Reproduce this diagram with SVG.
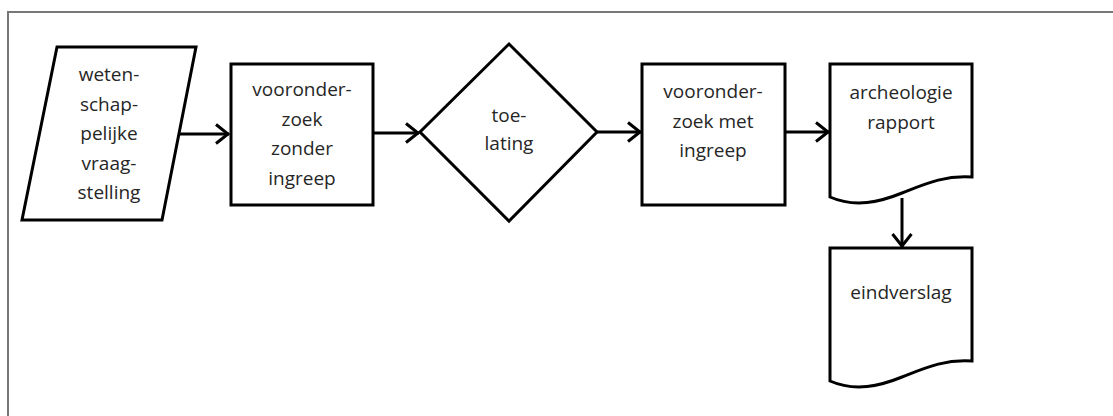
<svg xmlns="http://www.w3.org/2000/svg" width="1113" height="416" viewBox="0 0 1113 416">
<style>
.shape{fill:#fff;stroke:#000;stroke-width:3;stroke-linejoin:miter}
.conn{fill:none;stroke:#000;stroke-width:3}
text{font-family:"Open Sans","Liberation Sans",sans-serif;font-size:19px;fill:#262626;text-anchor:middle}
</style>
<defs>
<marker id="arr" markerUnits="userSpaceOnUse" markerWidth="18" markerHeight="24" refX="15" refY="12" orient="auto">
<path d="M2,2.5 L14,12 L2,21.5" fill="none" stroke="#000" stroke-width="3"/>
</marker>
</defs>
<rect width="1113" height="416" fill="#fff"/>
<path d="M8,420 V12 H1120" fill="none" stroke="#777" stroke-width="2"/>
<g id="connectors">
<line class="conn" x1="180" y1="134" x2="229" y2="134" marker-end="url(#arr)"/>
<line class="conn" x1="373" y1="133" x2="419" y2="133" marker-end="url(#arr)"/>
<line class="conn" x1="597" y1="132" x2="641" y2="132" marker-end="url(#arr)"/>
<line class="conn" x1="785" y1="132" x2="829" y2="132" marker-end="url(#arr)"/>
<line class="conn" x1="902" y1="198" x2="902" y2="247" marker-end="url(#arr)"/>
</g>
<g id="n1">
<polygon class="shape" points="57,47 196,47 162,220 22,220"/>
<text x="109" y="81">weten-</text>
<text x="109" y="110.5">schap-</text>
<text x="109" y="140">pelijke</text>
<text x="109" y="169.5">vraag-</text>
<text x="109" y="199">stelling</text>
</g>
<g id="n2">
<rect class="shape" x="231" y="64" width="142" height="141"/>
<text x="302" y="96">vooronder-</text>
<text x="302" y="125.5">zoek</text>
<text x="302" y="155">zonder</text>
<text x="302" y="184.5">ingreep</text>
</g>
<g id="n3">
<polygon class="shape" points="509,44 597,132 509,221 420,132"/>
<text x="509" y="122">toe-</text>
<text x="509" y="150">lating</text>
</g>
<g id="n4">
<rect class="shape" x="642" y="64" width="143" height="141"/>
<text x="713" y="98">vooronder-</text>
<text x="713" y="128">zoek met</text>
<text x="713" y="157">ingreep</text>
</g>
<g id="n5">
<path class="shape" d="M830,64 H972 V177 C945,175 925,184 902,193 C880,202 855,208 830,197 Z"/>
<text x="901" y="99">archeologie</text>
<text x="901" y="129">rapport</text>
</g>
<g id="n6">
<path class="shape" d="M830,248 H972 V361 C945,359 925,368 902,377 C880,386 855,392 830,381 Z"/>
<text x="901" y="299">eindverslag</text>
</g>
</svg>
